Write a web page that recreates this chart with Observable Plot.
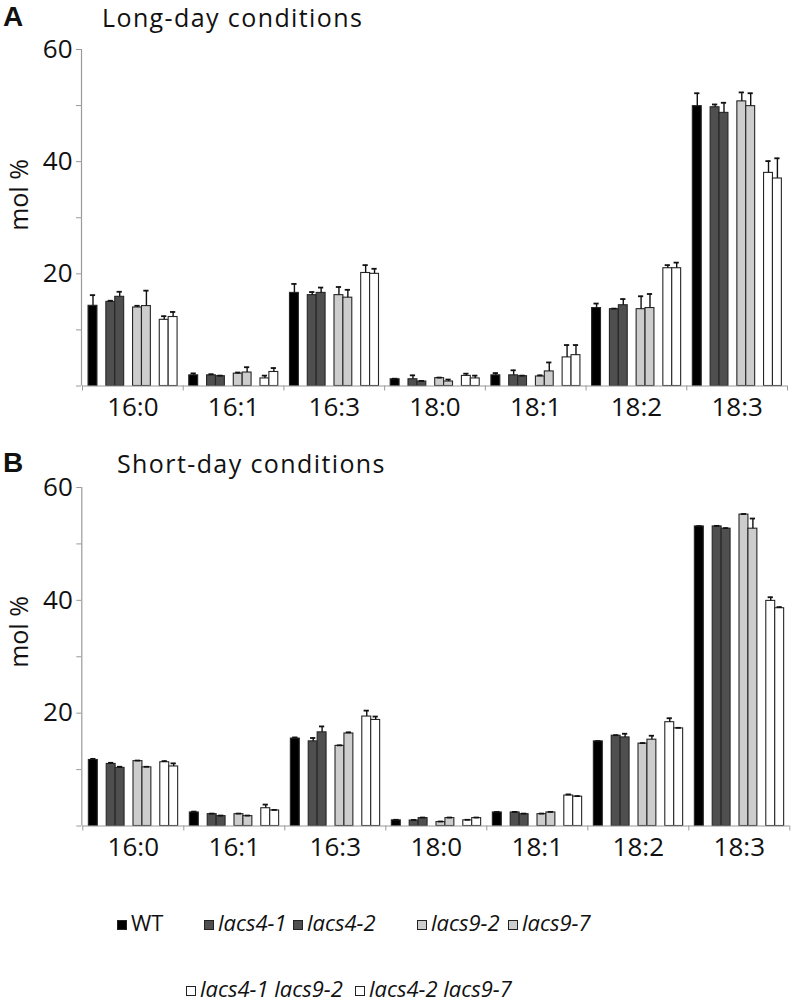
<!DOCTYPE html>
<html>
<head>
<meta charset="utf-8">
<script src="https://cdn.jsdelivr.net/npm/d3@7"></script>
<script src="https://cdn.jsdelivr.net/npm/@observablehq/plot@0.6"></script>
<style>
  body { margin: 0; background: #fff; font-family: "Open Sans", sans-serif; }
  #wrap { position: relative; width: 793px; height: 1005px; overflow: hidden; background: #fff; }
  .svgbox { position: absolute; left: 0; }
  .letter { position: absolute; font-family: "Liberation Sans", Arial, sans-serif; font-weight: bold; font-size: 28px; line-height: 1; color: #111; }
  .title { position: absolute; font-family: "Open Sans", sans-serif; font-size: 25px; letter-spacing: 1.4px; line-height: 1; color: #111; white-space: nowrap; }
  .ylab { position: absolute; font-family: "Open Sans", sans-serif; font-size: 25px; line-height: normal; color: #111; white-space: nowrap; transform: translate(-50%, -50%) rotate(-90deg); }
  .sw { position: absolute; width: 8px; height: 8px; border: 1px solid #222; }
  .lt { position: absolute; font-family: "Open Sans", sans-serif; font-size: 22px; line-height: 1; color: #111; white-space: nowrap; }
</style>
</head>
<body>
<div id="wrap"></div>
<script>
// ---------- data ----------
const fattyAcids = ["16:0", "16:1", "16:3", "18:0", "18:1", "18:2", "18:3"];
const genotypes = ["WT", "lacs4-1", "lacs4-2", "lacs9-2", "lacs9-7", "lacs4-1 lacs9-2", "lacs4-2 lacs9-7"];
// series order as in the original spreadsheet (empty strings are blank spacer series)
const seriesSlots = ["WT", "", "lacs4-1", "lacs4-2", "", "lacs9-2", "lacs9-7", "", "lacs4-1 lacs9-2", "lacs4-2 lacs9-7"];
const yTicks = [0, 10, 20, 30, 40, 50, 60];
const yTickLabels = ["", "", "20", "", "40", "", "60"];

// Long-day conditions (mol %), mean and upper error
const ldWT  = [14.3, 1.9, 16.6, 1.2, 1.9, 13.9, 49.9];
const ldWTe = [1.9, 0.35, 1.6, 0.1, 0.4, 0.8, 2.3];
const ld41  = [15.0, 1.9, 16.2, 1.2, 1.9, 13.7, 49.7];
const ld41e = [0.2, 0.2, 0.55, 0.7, 0.9, 0.1, 0.5];
const ld42  = [15.9, 1.75, 16.6, 0.8, 1.75, 14.4, 48.7];
const ld42e = [0.9, 0.1, 0.95, 0.1, 0.1, 1.1, 1.8];
const ld92  = [14.0, 2.2, 16.2, 1.4, 1.7, 13.7, 50.75];
const ld92e = [0.3, 0.2, 1.45, 0.1, 0.2, 2.3, 1.6];
const ld97  = [14.25, 2.4, 15.75, 0.8, 2.6, 13.9, 49.9];
const ld97e = [2.75, 0.95, 1.4, 0.35, 1.6, 2.5, 2.3];
const ldD1  = [11.8, 1.35, 20.15, 1.8, 5.1, 21.0, 38.0];
const ldD1e = [0.65, 0.5, 1.4, 0.4, 2.2, 0.55, 2.1];
const ldD2  = [12.3, 2.5, 20.0, 1.35, 5.5, 21.0, 37.0];
const ldD2e = [0.9, 0.7, 0.9, 0.5, 1.8, 1.0, 3.6];

// Short-day conditions (mol %)
const sdWT  = [11.7, 2.4, 15.5, 1.0, 2.4, 15.0, 53.1];
const sdWTe = [0.2, 0.15, 0.2, 0.1, 0.1, 0.05, 0.05];
const sd41  = [11.0, 2.1, 15.0, 0.97, 2.4, 16.0, 53.1];
const sd41e = [0.2, 0.1, 0.6, 0.1, 0.1, 0.1, 0.1];
const sd42  = [10.3, 1.75, 16.6, 1.4, 2.1, 15.7, 52.7];
const sd42e = [0.2, 0.1, 1.05, 0.1, 0.1, 0.65, 0.1];
const sd92  = [11.5, 2.1, 14.2, 0.7, 2.1, 14.6, 55.2];
const sd92e = [0.1, 0.1, 0.1, 0.1, 0.1, 0.1, 0.1];
const sd97  = [10.4, 1.75, 16.4, 1.4, 2.4, 15.3, 52.7];
const sd97e = [0.1, 0.1, 0.2, 0.1, 0.1, 0.7, 1.8];
const sdD1  = [11.3, 3.15, 19.4, 1.0, 5.4, 18.4, 39.9];
const sdD1e = [0.2, 0.65, 1.05, 0.1, 0.2, 0.7, 0.65];
const sdD2  = [10.55, 2.75, 18.8, 1.4, 5.2, 17.3, 38.6];
const sdD2e = [0.55, 0.1, 0.6, 0.1, 0.1, 0.1, 0.2];

// ---------- styling ----------
const fillOf = {
  "WT": "#000000",
  "lacs4-1": "#4f4f4f", "lacs4-2": "#4f4f4f",
  "lacs9-2": "#cdcdcd", "lacs9-7": "#cdcdcd",
  "lacs4-1 lacs9-2": "#ffffff", "lacs4-2 lacs9-7": "#ffffff"
};
const GROUP_OFFSET = 0.06, SLOT = 0.0884, CAP = 0.026;
const AXIS_GRAY = "#9a9a9a";

function buildRows(means, errs) {
  const rows = [];
  genotypes.forEach((g, gi) => {
    const slot = seriesSlots.indexOf(g);
    fattyAcids.forEach((fa, i) => {
      const x1 = i + GROUP_OFFSET + slot * SLOT;
      rows.push({fa, g, x1, x2: x1 + SLOT, cx: x1 + SLOT / 2, mean: means[gi][i], top: means[gi][i] + errs[gi][i]});
    });
  });
  return rows;
}

function makePanel(means, errs, m) {
  const rows = buildRows(means, errs);
  return Plot.plot({
    width: 793,
    height: 440,
    marginTop: m.top,
    marginBottom: m.bottom,
    marginLeft: m.left,
    marginRight: m.right,
    style: {fontFamily: "'Open Sans', sans-serif", background: "transparent", overflow: "visible", color: "#111"},
    x: {domain: [0, fattyAcids.length]},
    y: {domain: [0, 60]},
    color: {type: "identity"},
    marks: [
      Plot.ruleX([0], {y1: 0, y2: 60, stroke: AXIS_GRAY, strokeWidth: 1.2, dx: -1}),
      Plot.rect(rows, {x1: "x1", x2: "x2", y1: 0, y2: "mean", fill: d => fillOf[d.g], stroke: "#262626", strokeWidth: 1.1}),
      Plot.ruleX(rows, {x: "cx", y1: "mean", y2: "top", stroke: "#111", strokeWidth: 1.4}),
      Plot.ruleY(rows, {y: "top", x1: d => d.cx - CAP, x2: d => d.cx + CAP, stroke: "#111", strokeWidth: 1.8}),
      Plot.ruleY([0], {stroke: AXIS_GRAY, strokeWidth: 1.2}),
      Plot.axisY({ticks: yTicks, tickSize: 5, tickPadding: 4, dx: -1, tickFormat: d => yTickLabels[yTicks.indexOf(d)], fontSize: 26, stroke: AXIS_GRAY, fill: "#111", label: null}),
      Plot.axisX({ticks: d3.range(0, fattyAcids.length + 1), tickSize: 5, tickFormat: () => "", stroke: AXIS_GRAY, label: null}),
      Plot.axisX({ticks: fattyAcids.map((_, i) => i + 0.5), tickSize: 0, tickPadding: 12, tickFormat: d => fattyAcids[Math.floor(d)], fontSize: 26, fill: "#111", label: null})
    ]
  });
}

const wrap = document.getElementById("wrap");

function addSvg(svg, top) {
  const box = document.createElement("div");
  box.className = "svgbox";
  box.style.top = top + "px";
  box.appendChild(svg);
  wrap.appendChild(box);
}
function addText(cls, text, left, top) {
  const d = document.createElement("div");
  d.className = cls;
  d.textContent = text;
  d.style.left = left + "px";
  d.style.top = top + "px";
  wrap.appendChild(d);
  return d;
}

const panelA = makePanel(
  [ldWT, ld41, ld42, ld92, ld97, ldD1, ldD2],
  [ldWTe, ld41e, ld42e, ld92e, ld97e, ldD1e, ldD2e],
  {top: 49, bottom: 54.5, left: 82, right: 6}
);
const panelB = makePanel(
  [sdWT, sd41, sd42, sd92, sd97, sdD1, sdD2],
  [sdWTe, sd41e, sd42e, sd92e, sd97e, sdD1e, sdD2e],
  {top: 47, bottom: 54.5, left: 82.3, right: 3.7}
);
addSvg(panelA, 0);
addSvg(panelB, 440);

// panel letters, titles and y-axis labels
addText("letter", "A", 3, 3);
addText("title", "Long-day conditions", 102, 4.6);
addText("ylab", "mol %", 17.5, 195);
addText("letter", "B", 3, 449);
addText("title", "Short-day conditions", 117, 450.8);
addText("ylab", "mol %", 17.5, 632);

// ---------- legend (below the charts) ----------
const legendPlace = [[117, 930], [204, 930], [293, 930], [417, 930], [508, 930], [186, 996], [355, 996]];
genotypes.forEach((g, i) => {
  const [x, base] = legendPlace[i];
  const sw = document.createElement("div");
  sw.className = "sw";
  sw.style.left = x + "px";
  sw.style.top = (base - 10) + "px";
  sw.style.background = fillOf[g];
  wrap.appendChild(sw);
  const t = addText("lt", g, x + 14, base - 19.5);
  if (g !== "WT") t.style.fontStyle = "italic";
});
</script>
</body>
</html>
